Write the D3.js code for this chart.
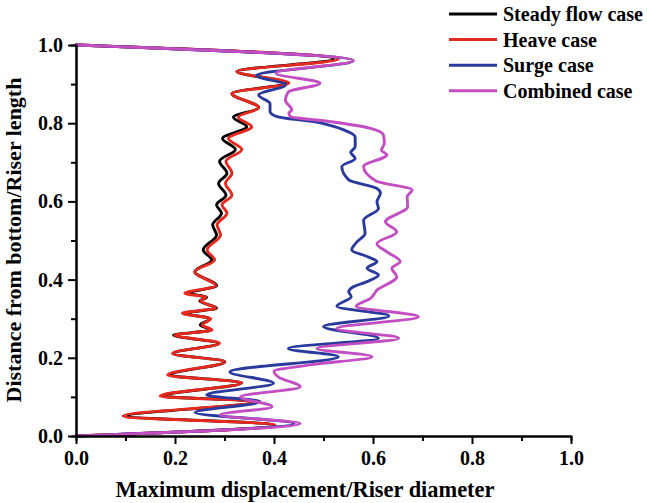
<!DOCTYPE html>
<html>
<head>
<meta charset="utf-8">
<script src="https://cdn.jsdelivr.net/npm/d3@7"></script>
<style>
  html, body { margin: 0; padding: 0; background: #fff; }
  svg { display: block; }
  text { font-family: "Liberation Serif", "Times New Roman", serif; font-weight: bold; fill: #000; }
</style>
</head>
<body>
<svg id="chart" width="647" height="503"></svg>
<script>
// Non-dimensional height along the riser (0 = bottom, 1 = top) and the
// maximum cross-flow displacement (A/D) for each case.
const steadyY = [0, 0.028, 0.051, 0.088, 0.102, 0.136, 0.156, 0.19, 0.211, 0.237, 0.258, 0.271, 0.284, 0.30, 0.314, 0.327, 0.345, 0.355, 0.365, 0.384, 0.42, 0.45, 0.476, 0.514, 0.54, 0.57, 0.591, 0.616, 0.646, 0.672, 0.703, 0.733, 0.761, 0.791, 0.815, 0.84, 0.876, 0.903, 0.932, 0.964, 1.0];
const steadyX = [0, 0.40, 0.105, 0.365, 0.175, 0.335, 0.19, 0.301, 0.197, 0.288, 0.197, 0.274, 0.251, 0.271, 0.22, 0.284, 0.25, 0.264, 0.228, 0.284, 0.24, 0.274, 0.257, 0.284, 0.276, 0.294, 0.284, 0.303, 0.288, 0.305, 0.29, 0.322, 0.296, 0.345, 0.318, 0.369, 0.315, 0.425, 0.325, 0.52, 0];

const heaveY = steadyY;
const heaveX = [0, 0.402, 0.095, 0.365, 0.17, 0.335, 0.185, 0.30, 0.195, 0.29, 0.2, 0.275, 0.255, 0.272, 0.215, 0.282, 0.252, 0.262, 0.22, 0.282, 0.24, 0.28, 0.265, 0.292, 0.285, 0.305, 0.295, 0.315, 0.302, 0.315, 0.303, 0.335, 0.308, 0.355, 0.328, 0.369, 0.315, 0.43, 0.325, 0.53, 0];

const surgeY = [0, 0.032, 0.06, 0.088, 0.105, 0.135, 0.164, 0.203, 0.224, 0.25, 0.28, 0.307, 0.332, 0.356, 0.369, 0.382, 0.395, 0.412, 0.429, 0.446, 0.459, 0.476, 0.497, 0.518, 0.552, 0.582, 0.599, 0.621, 0.633, 0.655, 0.689, 0.71, 0.725, 0.74, 0.765, 0.783, 0.804, 0.817, 0.83, 0.85, 0.872, 0.898, 0.922, 0.96, 1.0];
const surgeX = [0, 0.44, 0.241, 0.372, 0.264, 0.399, 0.311, 0.53, 0.429, 0.611, 0.50, 0.632, 0.527, 0.556, 0.551, 0.561, 0.588, 0.611, 0.588, 0.608, 0.588, 0.557, 0.568, 0.584, 0.581, 0.611, 0.608, 0.615, 0.608, 0.551, 0.537, 0.564, 0.555, 0.564, 0.564, 0.541, 0.48, 0.406, 0.392, 0.392, 0.369, 0.423, 0.365, 0.56, 0];

const combinedY = [0, 0.032, 0.054, 0.075, 0.10, 0.126, 0.15, 0.165, 0.182, 0.203, 0.224, 0.25, 0.275, 0.305, 0.332, 0.352, 0.373, 0.407, 0.429, 0.446, 0.471, 0.492, 0.522, 0.548, 0.586, 0.612, 0.629, 0.652, 0.689, 0.719, 0.731, 0.749, 0.77, 0.787, 0.804, 0.817, 0.826, 0.834, 0.859, 0.88, 0.902, 0.928, 0.96, 1.0];
const combinedX = [0, 0.453, 0.291, 0.396, 0.332, 0.453, 0.41, 0.40, 0.473, 0.598, 0.487, 0.652, 0.527, 0.692, 0.566, 0.595, 0.608, 0.648, 0.638, 0.655, 0.628, 0.608, 0.648, 0.625, 0.67, 0.669, 0.679, 0.606, 0.581, 0.628, 0.617, 0.623, 0.621, 0.595, 0.514, 0.433, 0.43, 0.436, 0.423, 0.429, 0.493, 0.404, 0.56, 0];

const seriesNames = ["Steady flow case", "Heave case", "Surge case", "Combined case"];
const seriesColors = ["#000000", "#e5291f", "#2a3a9c", "#c24ec1"];

const majorTicks = [0, 0.2, 0.4, 0.6, 0.8, 1.0];
const minorTicks = [0.1, 0.3, 0.5, 0.7, 0.9];
const xTitle = "Maximum displacement/Riser diameter";
const yTitle = "Distance from bottom/Riser length";

const series = [
  { name: seriesNames[0], color: seriesColors[0], y: steadyY, x: steadyX },
  { name: seriesNames[1], color: seriesColors[1], y: heaveY, x: heaveX },
  { name: seriesNames[2], color: seriesColors[2], y: surgeY, x: surgeX },
  { name: seriesNames[3], color: seriesColors[3], y: combinedY, x: combinedX }
];

const svg = d3.select("#chart");
svg.append("rect").attr("width", 647).attr("height", 503).attr("fill", "#fff");

const x = d3.scaleLinear().domain([0, 1]).range([76, 571]);
const y = d3.scaleLinear().domain([0, 1]).range([436, 45]);

// curves: displacement as a function of height
const line = d3.line()
  .x(d => x(d[0]))
  .y(d => y(d[1]))
  .curve(d3.curveMonotoneY);

const plot = svg.append("g");
series.forEach(s => {
  const pts = s.y.map((h, i) => [s.x[i], h]);
  plot.append("path")
    .datum(pts)
    .attr("d", line)
    .attr("fill", "none")
    .attr("stroke", s.color)
    .attr("stroke-width", 2.9)
    .attr("stroke-linejoin", "round")
    .attr("stroke-linecap", "round");
});

// axes: major ticks with labels, minor ticks without
function styleAxis(g) {
  g.select(".domain").attr("stroke", "#000").attr("stroke-width", 2);
  g.selectAll(".tick line").attr("stroke", "#000").attr("stroke-width", 2);
  g.selectAll(".tick text").style("font-size", "20px");
}

const fmt = d3.format(".1f");
svg.append("g")
  .attr("transform", "translate(0,436)")
  .call(d3.axisBottom(x).tickValues(minorTicks).tickSize(5).tickFormat(""))
  .call(styleAxis);
svg.append("g")
  .attr("transform", "translate(0,436)")
  .call(d3.axisBottom(x).tickValues(majorTicks).tickSize(8).tickSizeOuter(0).tickPadding(7).tickFormat(fmt))
  .call(styleAxis);

svg.append("g")
  .attr("transform", "translate(76,0)")
  .call(d3.axisLeft(y).tickValues(minorTicks).tickSize(5).tickFormat(""))
  .call(styleAxis);
svg.append("g")
  .attr("transform", "translate(76,0)")
  .call(d3.axisLeft(y).tickValues(majorTicks).tickSize(8).tickSizeOuter(0).tickPadding(5).tickFormat(fmt))
  .call(styleAxis);

svg.selectAll("g").attr("font-family", null);

// axis titles
svg.append("text")
  .attr("x", 305).attr("y", 497)
  .attr("text-anchor", "middle")
  .style("font-size", "22.4px")
  .text(xTitle);

svg.append("text")
  .attr("transform", "translate(21,240) rotate(-90)")
  .attr("text-anchor", "middle")
  .style("font-size", "22px")
  .text(yTitle);

// legend
const legend = svg.append("g");
series.forEach((s, i) => {
  const ly = 14 + i * 25.6;
  legend.append("line")
    .attr("x1", 449).attr("x2", 497)
    .attr("y1", ly).attr("y2", ly)
    .attr("stroke", s.color).attr("stroke-width", 3);
  legend.append("text")
    .attr("x", 503).attr("y", ly)
    .attr("dy", "0.35em")
    .style("font-size", "20px")
    .text(s.name);
});
</script>
</body>
</html>
